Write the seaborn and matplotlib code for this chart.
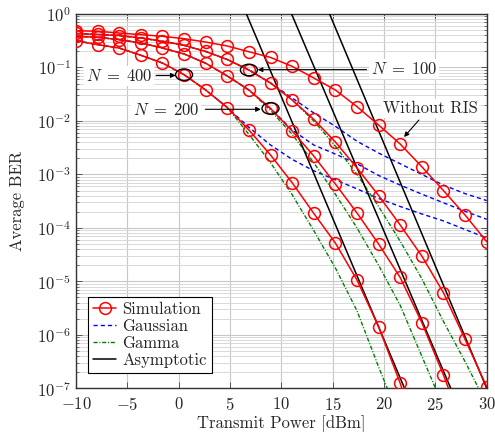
import numpy as np
import pandas as pd
import seaborn as sns
import matplotlib
matplotlib.use("Agg")
import matplotlib.pyplot as plt
import matplotlib.transforms as mtransforms
from matplotlib.patches import Ellipse
from matplotlib.lines import Line2D

# Transmit power grid (dBm) shared by every curve
power_dbm = np.linspace(-10, 30, 20)

# Monte-Carlo simulation
sim_no_ris = [0.487, 0.475, 0.441, 0.410, 0.383, 0.345, 0.299, 0.252, 0.197, 0.154,
              0.105, 0.0636, 0.0379, 0.0185, 8.39e-3, 3.70e-3, 1.39e-3, 5.0e-4, 1.74e-4, 5.52e-5]
sim_n100 = [0.432, 0.414, 0.396, 0.356, 0.309, 0.260, 0.199, 0.141, 0.0897, 0.0513,
            0.0247, 0.0107, 4.04e-3, 1.32e-3, 4.03e-4, 1.13e-4, 2.98e-5, 6.13e-6, 8.24e-7, 1.07e-7]
sim_n200 = [0.383, 0.367, 0.331, 0.287, 0.231, 0.179, 0.120, 0.0693, 0.0379, 0.0171,
            6.49e-3, 2.21e-3, 6.62e-4, 1.90e-4, 4.99e-5, 1.18e-5, 1.69e-6, 1.77e-7, 1.5e-8, np.nan]
sim_n400 = [0.317, 0.267, 0.231, 0.169, 0.121, 0.0733, 0.0379, 0.0178, 6.77e-3, 2.31e-3,
            7.0e-4, 1.87e-4, 5.21e-5, 1.06e-5, 1.42e-6, 1.24e-7, 7e-9, np.nan, np.nan, np.nan]

# Gaussian (CLT) approximation
gauss_n100 = [0.432, 0.414, 0.396, 0.356, 0.309, 0.260, 0.199, 0.141, 0.0897, 0.0513,
              0.0269, 0.0141, 7.94e-3, 4.17e-3, 2.51e-3, 1.58e-3, 1.0e-3, 6.31e-4, 4.37e-4, 3.24e-4]
gauss_n200 = [0.383, 0.367, 0.331, 0.287, 0.231, 0.179, 0.120, 0.0693, 0.0379, 0.0171,
              6.76e-3, 3.55e-3, 2.40e-3, 1.58e-3, 9.55e-4, 6.31e-4, 4.27e-4, 2.95e-4, 2.04e-4, 1.45e-4]
gauss_n400 = [0.317, 0.267, 0.231, 0.169, 0.121, 0.0733, 0.0379, 0.0178, 7.59e-3, 3.55e-3,
              1.91e-3, 1.17e-3, 7.94e-4, 5.37e-4, 3.55e-4, 2.51e-4, 1.82e-4, 1.35e-4, 9.33e-5, 6.46e-5]

# Gamma approximation
gamma_n100 = [0.432, 0.414, 0.396, 0.356, 0.309, 0.260, 0.199, 0.141, 0.0897, 0.0513,
              0.0247, 0.0100, 3.39e-3, 1.0e-3, 2.51e-4, 5.62e-5, 1.12e-5, 1.78e-6, 3.16e-7, 5.01e-8]
gamma_n200 = [0.383, 0.367, 0.331, 0.287, 0.231, 0.179, 0.120, 0.0693, 0.0379, 0.0158,
              5.62e-3, 1.66e-3, 4.27e-4, 1.0e-4, 2.0e-5, 3.55e-6, 3.98e-7, 4.47e-8, np.nan, np.nan]
gamma_n400 = [0.317, 0.267, 0.231, 0.169, 0.121, 0.0733, 0.0379, 0.0178, 5.62e-3, 1.66e-3,
              4.17e-4, 8.91e-5, 1.78e-5, 2.82e-6, 2.51e-7, 2.51e-8, np.nan, np.nan, np.nan, np.nan]

# High-SNR asymptotes: power where each line crosses BER = 1 and BER = 1e-7
asym_power = [[6.6, 22.0], [11.0, 26.5], [14.7, 30.0]]
asym_ber = [1.0, 1e-7]

x_ticks = [-10, -5, 0, 5, 10, 15, 20, 25, 30]
y_exponents = [0, -1, -2, -3, -4, -5, -6, -7]

sns.set_theme(style="ticks")
plt.rcParams["font.family"] = ["cmr10"]
plt.rcParams["mathtext.fontset"] = "cm"
plt.rcParams["axes.unicode_minus"] = True

FS = 12.0

fig = plt.figure(figsize=(4.95, 4.32), dpi=100)
ax = fig.add_axes([0.1535, 0.1012, 0.8297, 0.8664])
ax.set_yscale("log")

red, blue, green = "#ff0000", "#0000ff", "#008000"
dash_blue = (0, (3, 2.2))
dash_green = (0, (3, 1.2, 0.8, 1.2))

for ys in (gauss_n100, gauss_n200, gauss_n400):
    sns.lineplot(x=power_dbm, y=ys, ax=ax, color=blue, linestyle=dash_blue,
                 linewidth=1.0, zorder=3)
for ys in (gamma_n100, gamma_n200, gamma_n400):
    sns.lineplot(x=power_dbm, y=ys, ax=ax, color=green, linestyle=dash_green,
                 linewidth=1.0, zorder=3)
for xs in asym_power:
    sns.lineplot(x=xs, y=asym_ber, ax=ax, color="black", linewidth=1.1, zorder=4)
for ys in (sim_no_ris, sim_n100, sim_n200, sim_n400):
    sns.lineplot(x=power_dbm, y=ys, ax=ax, color=red, linewidth=1.1, marker="o",
                 markersize=8.5, markerfacecolor="none", markeredgecolor=red,
                 markeredgewidth=1.1, zorder=5)

ax.set_xlim(-10, 30)
ax.set_ylim(1e-7, 1)
ax.set_xticks(x_ticks, [f"${v}$" for v in x_ticks])
ax.set_yticks([10.0 ** e for e in y_exponents], [f"$10^{{{e}}}$" for e in y_exponents])
ax.yaxis.set_minor_locator(matplotlib.ticker.LogLocator(base=10, subs=np.arange(2, 10), numticks=20))
ax.yaxis.set_minor_formatter(matplotlib.ticker.NullFormatter())
ax.tick_params(axis="both", which="both", direction="in", top=True, right=True,
               labelsize=FS, color="#444444")
ax.tick_params(which="major", length=4, width=0.6)
ax.tick_params(which="minor", length=2, width=0.5)
ax.tick_params(axis="x", pad=5.5)
ax.grid(True, which="major", color="#c8c8c8", linewidth=0.8)
ax.grid(True, which="minor", axis="y", color="#d9d9d9", linewidth=0.7)
for s in ax.spines.values():
    s.set_color("#333333")
    s.set_linewidth(1.0)

ax.set_xlabel("Transmit Power [dBm]", fontsize=FS)
ax.set_ylabel("Average BER", fontsize=FS)
ax.xaxis.set_label_coords(0.5, -0.072)
ax.yaxis.set_label_coords(-0.125, 0.5)

# Ellipses that single out one marker per RIS size
def ring(xd, yd):
    tr = fig.dpi_scale_trans + mtransforms.ScaledTranslation(xd, yd, ax.transData)
    ax.add_patch(Ellipse((0, 0), 0.17, 0.115, transform=tr, fill=False,
                         edgecolor="black", linewidth=1.0, zorder=6))

ring(power_dbm[5], sim_n400[5])
ring(power_dbm[8], sim_n100[8])
ring(power_dbm[9], sim_n200[9])

box = dict(boxstyle="square,pad=0.1", fc="white", ec="none")
arrow = dict(arrowstyle="-|>", color="black", lw=0.8, mutation_scale=7, shrinkA=0, shrinkB=0)

ax.text(-5.8, 0.069, r"$N \;=\; 400$", fontsize=FS, ha="center", va="center", bbox=box, zorder=7)
ax.annotate("", xy=(-0.3, 0.071), xytext=(-2.2, 0.071), arrowprops=arrow, zorder=7)

ax.text(-1.25, 0.0162, r"$N \;=\; 200$", fontsize=FS, ha="center", va="center", bbox=box, zorder=7)
ax.annotate("", xy=(8.0, 0.0165), xytext=(2.6, 0.0165), arrowprops=arrow, zorder=7)

ax.text(21.95, 0.093, r"$N \;=\; 100$", fontsize=FS, ha="center", va="center", bbox=box, zorder=7)
ax.annotate("", xy=(7.7, 0.091), xytext=(18.3, 0.091), arrowprops=arrow, zorder=7)

ax.text(24.5, 0.0172, "Without RIS", fontsize=FS, ha="center", va="center", bbox=box, zorder=7)
ax.annotate("", xy=(21.95, 5.0e-3), xytext=(23.4, 0.0104), arrowprops=arrow, zorder=7)

handles = [
    Line2D([], [], color=red, linewidth=1.1, marker="o", markersize=8.5,
           markerfacecolor="none", markeredgewidth=1.1),
    Line2D([], [], color=blue, linestyle=dash_blue, linewidth=1.0),
    Line2D([], [], color=green, linestyle=dash_green, linewidth=1.0),
    Line2D([], [], color="black", linewidth=1.1),
]
leg = ax.legend(handles, ["Simulation", "Gaussian", "Gamma", "Asymptotic"],
                loc="upper left", bbox_to_anchor=(0.029, 0.244), borderaxespad=0,
                fontsize=FS, handlelength=1.4, handletextpad=0.35, labelspacing=0.1,
                borderpad=0.3, fancybox=False, framealpha=1, edgecolor="black")
leg.get_frame().set_linewidth(0.8)
leg.set_zorder(10)

fig.savefig("out.png", dpi=100)
